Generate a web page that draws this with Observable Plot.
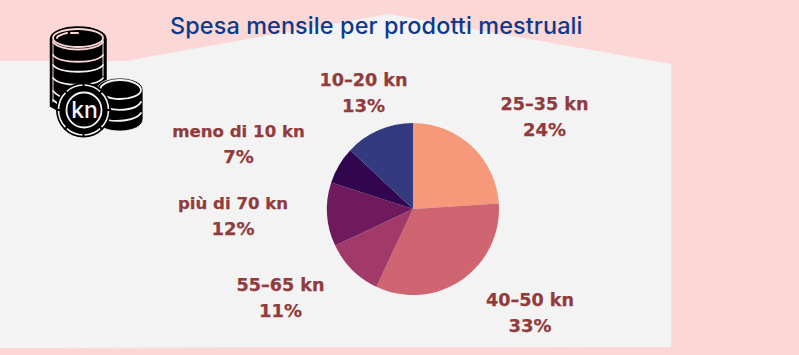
<!DOCTYPE html>
<html><head><meta charset="utf-8">
<script src="https://cdn.jsdelivr.net/npm/d3@7"></script>
<script src="https://cdn.jsdelivr.net/npm/@observablehq/plot@0.6"></script>
<style>
html,body{margin:0;padding:0;background:#fbd7d5;overflow:hidden}
#stage{position:relative;width:799px;height:355px;background:#fbd7d5;overflow:hidden}
#panel{position:absolute;inset:0;background:#f3f3f3;clip-path:polygon(0 61px,125px 61px,388px 14px,671px 64px,671px 347px,0 348px)}
#chart{position:absolute;left:0;top:0}
#chart svg{display:block;background:transparent}
#title{position:absolute;left:170px;top:10px;font:500 23.4px Inter,sans-serif;letter-spacing:.12px;color:#0b3a8c;white-space:nowrap;line-height:32px}
#icon{position:absolute;left:0;top:0}
</style></head><body>
<div id="stage"><div id="panel"></div><div id="chart"></div>
<svg id="icon" width="200" height="150" viewBox="0 0 200 150">
  <g stroke-linecap="round">
    <path d="M50.500 39c0-7 12-12 27.500-12s28 5 28 12v70l-40 6-15.500-9z" fill="#000" stroke="#000" stroke-width="1.500"/>
    <ellipse cx="78" cy="38" rx="25" ry="9" fill="none" stroke="#fbd7d5" stroke-width="1.800"/>
    <path d="M53 42c7 10 43 10 50 0M53 55c7 9 43 9 50 0" fill="none" stroke="#fbd7d5" stroke-width="1.800"/>
    <path d="M53 65c7 9 43 9 50 0M53 78c7 9 43 9 50 0M53 91c4 5 10 7 16 8M53 100l4 3" fill="none" stroke="#f3f3f3" stroke-width="1.800"/>
    <path d="M57 38c0-2 6-4 10-5M71 33h7" fill="none" stroke="#fbd7d5" stroke-width="2"/>
    <path d="M53 40v62" fill="none" stroke="#fbd7d5" stroke-width="1"/>
    <path d="M103 40v36" fill="none" stroke="#f3f3f3" stroke-width="1"/>
    <path d="M97 90c0-7 10-12 23-12s23 5 23 12v29c0 7-10 12-23 12s-23-4-23-12z" fill="#000" stroke="#f3f3f3" stroke-width=".8"/>
    <path d="M100 90c0 5 9 9 20 9s21-4 21-9c0-5-9-10-21-10s-20 5-20 10zM108 108c8 3 28 3 33-6M108 120c8 2 28 1 33-7" fill="none" stroke="#f3f3f3" stroke-width="1.800"/>
    <circle cx="83.500" cy="110" r="27.500" fill="#000"/>
    <circle cx="83.500" cy="110" r="25" fill="none" stroke="#f3f3f3" stroke-width="1.600"/>
    <circle cx="84" cy="110" r="17.500" fill="none" stroke="#f3f3f3" stroke-width="1.800"/>
    <path d="M83.500 84v4M83.500 132v4M57 110h4M106 110h4M65 91l3 3M99 126l3 3M65 129l3-3M99 94l3-3" stroke="#000" stroke-width="2"/>
    <text x="84.500" y="118" text-anchor="middle" font-family="Inter,sans-serif" font-weight="500" font-size="23" fill="#f3f3f3">kn</text>
  </g>
</svg>
<div id="title">Spesa mensile per prodotti mestruali</div>
</div>
<script>
const categories = ["25–35 kn", "40–50 kn", "55–65 kn", "più di 70 kn", "meno di 10 kn", "10–20 kn"];
const shares = [24, 33, 11, 12, 7, 13];
const sliceColors = ["#f6997a", "#cf6571", "#a23a69", "#6f1a5d", "#32064f", "#333a80"];
const table = categories.map((category, i) => ({category, share: shares[i]}));

// Layout only: pie placement and label anchors in page pixels
const pieCenter = [413, 209], pieRadius = 86;
const labelAnchors = [[544, 104], [529.500, 300], [280, 285], [232.500, 203], [238, 131], [363, 80]];
const lineGap = 25.5;
const rangeSizes = [17.6, 17.6, 17.6, 16.6, 16.6, 17.6];
const labelRows = table.map((d, i) => ({...d, lx: labelAnchors[i][0], ly: labelAnchors[i][1], size: rangeSizes[i]}));

const arcs = d3.pie().value(d => d.share).sort(null)(table);
const arcPath = d3.arc().innerRadius(0).outerRadius(pieRadius);

const pieMark = (index, scales) => {
  const g = d3.create("svg:g").attr("transform", `translate(${scales.x(pieCenter[0])},${scales.y(pieCenter[1])})`);
  g.selectAll("path").data(arcs).join("path")
    .attr("d", arcPath)
    .attr("fill", d => scales.color(d.data.category));
  return g.node();
};

const labelStyle = {fontFamily: "'DejaVu Sans',sans-serif", fontWeight: 700, fill: "#913b3d", stroke: "#913b3d", strokeWidth: 0.25, textAnchor: "middle"};

document.getElementById("chart").append(Plot.plot({
  width: 799, height: 355, margin: 0,
  style: {background: "transparent"},
  x: {domain: [0, 799], range: [0, 799], axis: null},
  y: {domain: [0, 355], range: [0, 355], axis: null},
  color: {type: "ordinal", domain: categories, range: sliceColors},
  marks: [
    Plot.dot(table, {x: () => pieCenter[0], y: () => pieCenter[1], r: 0, fill: "category", render: pieMark}),
    Plot.text(labelRows, {x: "lx", y: "ly", text: "category", fontSize: "size", ...labelStyle}),
    Plot.text(labelRows, {x: "lx", y: d => d.ly + lineGap, text: d => d.share + "%", fontSize: 18, ...labelStyle})
  ]
}));
</script>
</body></html>
